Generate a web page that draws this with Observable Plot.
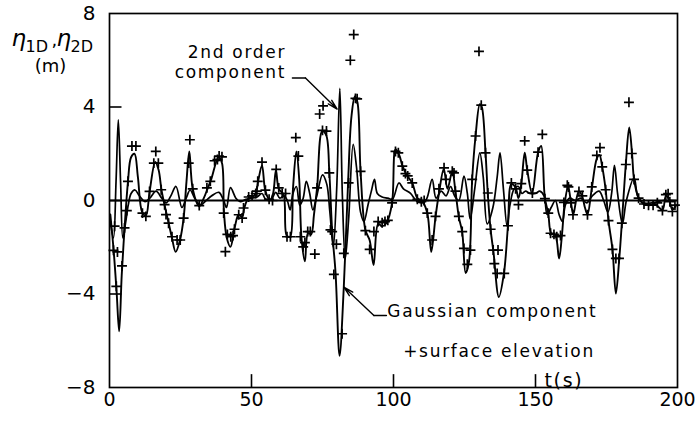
<!DOCTYPE html>
<html>
<head>
<meta charset="utf-8">
<script src="https://cdn.jsdelivr.net/npm/d3@7"></script>
<script src="https://cdn.jsdelivr.net/npm/@observablehq/plot@0.6"></script>
<style>
  html, body { margin: 0; padding: 0; background: #fff; }
  #chart svg { display: block; }
</style>
</head>
<body>
<div id="chart"></div>
<script>
// Gaussian component [t (s), eta (m)]
const gaussian = [
[0.3,-0.6],[1.5,-2.2],[2.5,-3.9],[3.4,-5.6],[4.3,-3.2],[5.3,-1.2],[6.5,0.8],[7.6,1.85],[8.8,2.0],[10,1.0],[11.5,-0.5],[12.8,-0.65],[14.1,0.35],[16.1,1.65],[17.3,1.3],[18.3,0.45],[19.4,-0.2],[20.8,-0.95],[22,-1.6],[23.3,-2.2],[24.8,-1.7],[26.1,-0.75],[27.1,0.8],[28.1,2.1],[29.3,0.5],[31.6,-0.25],[33.2,0.1],[34.5,0.5],[35.8,0.9],[38.4,1.85],[39.6,1.6],[40.3,-0.5],[41.3,-1.6],[42.6,-1.98],[44,-1.2],[45.5,-0.6],[46.7,-0.72],[47.5,-0.3],[48.7,0.05],[50.2,0.15],[51.5,0.3],[52.3,0.8],[53.7,1.5],[54.9,0.4],[56.5,0.02],[57.6,0.3],[58.6,1.3],[59.6,0.5],[61.3,0.25],[62.4,-1.5],[63.6,-1.55],[64.6,0.5],[65.8,2.1],[66.8,0.9],[67.6,-1.6],[68.8,-2.6],[69.9,-1.4],[71,-1.45],[72,-0.6],[73.1,0.55],[74.9,2.97],[76.3,2.8],[77.4,1.2],[78.4,-1.3],[79.6,-3.1],[81,-6.64],[82.5,-3.7],[84,0.75],[85.2,3.6],[86.4,4.45],[87.3,4.2],[88.4,1.25],[90.1,-1.26],[91.6,-1.7],[93,-2.76],[94.6,-1.0],[96,-1.1],[97.6,-0.95],[99.5,-0.1],[100.7,2.19],[102,1.95],[103.1,1.5],[104.6,1.1],[106.6,0.75],[108.4,0.1],[110.5,-0.1],[112,-0.6],[113.3,-2.2],[114.8,-0.7],[116,0.3],[117.7,1.35],[119,0.5],[120.7,1.25],[121.8,0.4],[123,-0.7],[124.2,-1.35],[125.4,-3.1],[126.6,-2.6],[127.7,0.9],[128.9,2.76],[130.4,4.12],[131.1,4.0],[132.4,2.04],[133.2,0.3],[134.2,-1.25],[135.2,-2.2],[137.1,-4.13],[138.9,-3.1],[140.3,-1.08],[141.5,0.7],[143,0.55],[144,0.1],[145,0.7],[146.2,2.04],[147.1,1.3],[148.8,0.3],[150.9,2.05],[152,2.33],[153.3,0.1],[154.5,-0.55],[155.5,-1.4],[157,-1.5],[158.3,-2.48],[159.3,-1.5],[160.3,-0.1],[161.5,0.6],[162.5,-0.1],[163.3,-0.6],[164.3,0.0],[165.3,0.4],[166.5,0.15],[167.4,-0.3],[168.3,-0.6],[169.8,0.5],[171.6,1.8],[172.5,1.95],[173.5,1.44],[174.7,0.46],[175.7,-0.86],[177.1,-2.09],[178.3,-3.98],[179.5,-2.48],[180.4,-0.97],[181.8,1.54],[183,3.12],[184,2.0],[184.7,0.9],[186.3,0.1],[188,-0.15],[190,-0.2],[192,-0.15],[194.7,-0.4],[195.9,0.2],[197,0.05],[198.2,-0.4],[199.5,-0.2]
];

// 2nd order component [t (s), eta (m)]
const secondOrder = [
[0.3,-0.9],[1.4,-1.6],[2.3,0.8],[3.1,3.45],[3.9,0.8],[4.7,-1.6],[5.6,-1.0],[6.6,-0.2],[7.6,0.3],[9,0.45],[10.5,0.2],[12.5,-0.05],[14.2,0.1],[16.4,0.4],[18.4,0.1],[20,-0.1],[21.6,0.2],[23.4,0.6],[25.5,-0.3],[27,0.1],[28.4,0.45],[30,0.1],[32,-0.2],[34,0.0],[36,0.2],[38.5,0.35],[40.2,0.0],[41.2,-0.3],[42.6,0.55],[44.5,0.1],[46,-0.05],[48,0.05],[50,0.1],[52,0.15],[53.7,0.3],[55,0.05],[57,0.05],[58.5,0.35],[60,0.1],[61.5,0.2],[62.6,0.0],[63.6,-0.4],[64.6,0.3],[65.8,0.6],[67,-0.2],[68.2,0.1],[69.3,0.82],[70.5,0.3],[71.6,-0.4],[73,0.2],[75,1.1],[76.5,0.7],[77.6,-0.5],[78.8,-2.0],[80,0.5],[81.1,4.8],[82,0.2],[83,-2.5],[84.2,-0.8],[85.8,2.4],[87,1.4],[88.4,-0.5],[89.6,-0.9],[91,-0.2],[92.2,0.4],[93.3,0.9],[94.3,0.3],[96,0.15],[98,0.1],[99.6,0.05],[101.9,0.75],[103.5,0.5],[106,0.3],[108,0.0],[110,-0.1],[111.6,0.05],[113.6,0.9],[115,0.1],[116.8,0.4],[118.5,0.2],[120.1,0.6],[121.5,0.2],[123,0.0],[124.8,1.04],[126,0.3],[127,-0.8],[128.6,0.5],[130.4,2.04],[131.6,1.0],[133,-1.0],[135,-0.3],[136.5,1.0],[137.5,2.04],[138.7,0.5],[140,-1.1],[141,-0.2],[142.5,0.5],[144,0.6],[145.2,0.3],[146.5,0.4],[148,0.3],[150,0.3],[151.5,0.4],[153,0.2],[154.1,-0.6],[155.5,-0.3],[157,0.0],[158.3,-0.6],[159.5,-0.9],[160.5,-0.2],[162,0.1],[164,0.0],[166,0.1],[168,-0.1],[170,0.2],[172.4,0.4],[174,0.0],[175.5,-0.5],[176.8,0.3],[177.8,1.5],[178.9,0.3],[180.6,-1.0],[182,0.0],[184.7,0.97],[186,0.2],[188,-0.1],[191,-0.1],[195,0.0],[199.5,0.0]
];

// Measured surface elevation [t (s), eta (m)]
const surface = [
[1.4,-2.13],[1.8,-1.1],[2.4,-3.67],[2.8,-2.2],[4.4,-2.8],[5.3,-1.17],[6.1,-0.43],[6.5,0.82],[7.9,2.33],[9.3,2.33],[11.6,-0.54],[12.8,-0.68],[14.1,0.39],[15.6,1.6],[16.3,2.1],[17.2,1.6],[18.2,0.46],[19.4,-0.18],[19.9,-0.6],[20.8,-0.97],[22,-1.55],[23.8,-1.69],[24.9,-1.69],[26.1,-0.75],[27.9,1.6],[28.3,2.6],[29.3,0.5],[31.6,-0.22],[34.3,0.54],[35.5,0.82],[37,1.7],[38,1.75],[38.6,1.9],[39.6,1.87],[40.2,-0.54],[40.8,-2.19],[41.5,-1.45],[42.7,-1.55],[43.5,-1.5],[44,-1.23],[45.5,-0.61],[46.7,-0.75],[47.2,-0.32],[49,0.15],[50.2,0.2],[51.5,0.3],[51.9,0.4],[52.2,0.82],[53.7,1.64],[54.9,0.44],[56.2,0.05],[57.4,0.0],[58.7,1.33],[59.6,0.54],[60.8,0.3],[62,0.3],[62.5,-1.55],[63.7,-1.55],[65.6,2.69],[66.5,1.9],[67.2,-1.55],[68.2,-1.98],[68.8,-1.8],[69.8,-1.33],[70.7,-1.33],[72.3,-2.29],[73.1,0.54],[74,3.7],[75,3.0],[75.2,4.05],[76.4,2.97],[77.4,1.18],[77.8,-1.26],[78.4,-1.33],[79,-3.16],[79.9,-1.87],[81.9,-5.7],[82.5,-2.26],[84.2,0.75],[84.8,6.0],[86,7.1],[86.6,4.37],[87.2,4.35],[88.4,1.25],[90.1,-1.29],[91.6,-2.09],[93.1,-1.33],[94.6,-0.9],[96,-0.95],[97,-0.9],[98,-0.85],[99.5,-0.1],[100.7,2.1],[101.7,2.04],[103.1,1.47],[104.2,1.15],[105,1.05],[106.6,0.75],[108.4,0.05],[109.8,-0.05],[110.8,0.0],[111.9,-0.54],[113.6,-1.69],[114.8,-0.68],[116,0.5],[117.8,1.4],[118.5,0.9],[120.7,1.25],[121.3,1.18],[121.8,0.4],[123,-0.68],[124.2,-1.33],[124.8,-2.05],[126,-2.73],[127.1,-2.12],[127.7,0.9],[128.9,2.76],[130.1,6.38],[130.9,4.08],[132.4,2.04],[133.2,0.32],[134.2,-1.23],[135.1,-2.12],[135.5,-2.7],[136.5,-3.12],[136.8,-2.12],[139,-3.12],[140.3,-1.08],[141.5,0.75],[143,0.5],[144,-0.18],[145,0.72],[146.2,2.55],[147.1,1.3],[148.9,0.32],[150.9,2.07],[152.4,2.83],[153.3,0.08],[154.5,-0.54],[155.3,-1.4],[156.5,-1.45],[157.5,-1.55],[158.8,-1.5],[160,-0.08],[161.2,0.65],[161.6,0.58],[162.5,-0.1],[163.2,-0.61],[165.3,0.39],[166.5,0.2],[168.3,-0.61],[169.8,0.58],[171.6,1.93],[172.7,2.26],[173.5,1.44],[174.7,0.46],[175.7,-0.86],[177.1,-2.09],[178.3,-2.48],[179.4,-2.48],[180.4,-0.97],[181.8,1.54],[182.9,4.2],[183.9,2.01],[184.7,0.9],[186.3,0.1],[188.2,-0.15],[189.8,-0.2],[191.4,-0.2],[192.9,-0.1],[194.7,-0.43],[195.9,0.25],[196.7,0.29],[197.3,-0.05],[198.2,-0.47],[199.1,-0.2]
];

const xTicks = [0, 50, 100, 150, 200];
const yTicks = [-8, -4, 0, 4, 8];
const xInnerTicks = [50, 100, 150];
const yInnerTicks = [-4, 0, 4];

const labelSecond = ["2nd order", "component"];
const labelGauss = "Gaussian component";
const labelSurface = "+surface elevation";
const labelTime = "t(s)";

const FONT = "DejaVu Sans, Liberation Sans, Arial, sans-serif";
const ink = {fill: "#000"};

const chart = Plot.plot({
  width: 696,
  height: 431,
  marginLeft: 109,
  marginRight: 19,
  marginTop: 13,
  marginBottom: 44,
  style: {fontFamily: FONT, background: "#fff", color: "#000"},
  x: {domain: [0, 200]},
  y: {domain: [-8, 8]},
  marks: [
    Plot.axisY({ticks: yTicks, tickSize: 0, tickPadding: 14, fontSize: 20, label: null}),
    Plot.axisX({ticks: xTicks, tickSize: 0, tickPadding: 5, fontSize: 19, label: null}),
    Plot.ruleY(yInnerTicks, {x1: 0, x2: 4.4, stroke: "#000", strokeWidth: 1.6}),
    Plot.ruleX(xInnerTicks, {y1: -8, y2: -7.45, stroke: "#000", strokeWidth: 1.6}),
    Plot.ruleY([0], {stroke: "#000", strokeWidth: 1.8}),
    Plot.line(secondOrder, {x: d => d[0], y: d => d[1], curve: "catmull-rom", stroke: "#000", strokeWidth: 1.7}),
    Plot.line(gaussian, {x: d => d[0], y: d => d[1], curve: "catmull-rom", stroke: "#000", strokeWidth: 1.9}),
    Plot.dot(surface, {x: d => d[0], y: d => d[1], symbol: "plus", r: 3.3, stroke: "#000", strokeWidth: 1.7}),
    // leader lines
    Plot.line([[64.4, 5.24], [69.0, 5.24]], {x: d => d[0], y: d => d[1], stroke: "#000", strokeWidth: 1.4}),
    Plot.arrow([0], {x1: 69.0, y1: 5.24, x2: 80.15, y2: 3.91, stroke: "#000", strokeWidth: 1.4, headLength: 11, headAngle: 28}),
    Plot.line([[97.5, -4.92], [93.1, -4.92]], {x: d => d[0], y: d => d[1], stroke: "#000", strokeWidth: 1.4}),
    Plot.arrow([0], {x1: 93.1, y1: -4.92, x2: 82.5, y2: -3.7, stroke: "#000", strokeWidth: 1.4, headLength: 11, headAngle: 28}),
    // annotation texts
    Plot.text([labelSecond[0]], {x: 62.2, y: 6.08, text: d => d, textAnchor: "end", lineAnchor: "bottom", fontSize: 17, ...ink}),
    Plot.text([labelSecond[1]], {x: 62.2, y: 5.22, text: d => d, textAnchor: "end", lineAnchor: "bottom", fontSize: 17, ...ink}),
    Plot.text([labelGauss], {x: 97.8, y: -4.99, text: d => d, textAnchor: "start", lineAnchor: "bottom", fontSize: 17, ...ink}),
    Plot.text([labelSurface], {x: 103.4, y: -6.7, text: d => d, textAnchor: "start", lineAnchor: "bottom", fontSize: 17, ...ink}),
    Plot.text([labelTime], {x: 160, y: -7.72, text: d => d, fontSize: 19, lineAnchor: "middle", ...ink}),
    // y-axis label pieces (positioned from the frame's top-left corner)
    Plot.text(["η"], {frameAnchor: "top-left", dx: -98, dy: 32, text: d => d, fontSize: 23, fontStyle: "italic", textAnchor: "start", lineAnchor: "bottom", ...ink}),
    Plot.text(["1D"], {frameAnchor: "top-left", dx: -84, dy: 38, text: d => d, fontSize: 16, textAnchor: "start", lineAnchor: "bottom", ...ink}),
    Plot.text([","], {frameAnchor: "top-left", dx: -58, dy: 32, text: d => d, fontSize: 18, textAnchor: "start", lineAnchor: "bottom", ...ink}),
    Plot.text(["η"], {frameAnchor: "top-left", dx: -53, dy: 32, text: d => d, fontSize: 23, fontStyle: "italic", textAnchor: "start", lineAnchor: "bottom", ...ink}),
    Plot.text(["2D"], {frameAnchor: "top-left", dx: -39, dy: 38, text: d => d, fontSize: 16, textAnchor: "start", lineAnchor: "bottom", ...ink}),
    Plot.text(["(m)"], {frameAnchor: "top-left", dx: -59, dy: 58, text: d => d, fontSize: 18, textAnchor: "middle", lineAnchor: "bottom", ...ink}),
    Plot.frame({stroke: "#000", strokeWidth: 1.7})
  ]
});

document.getElementById("chart").appendChild(chart);

// wide letter spacing for the annotation lettering, as in the original
const spaced = new Set([...labelSecond, labelGauss, labelSurface, labelTime]);
d3.select(chart).selectAll("text").each(function() {
  if (spaced.has(this.textContent)) d3.select(this).attr("letter-spacing", "1.7px");
});
</script>
</body>
</html>
